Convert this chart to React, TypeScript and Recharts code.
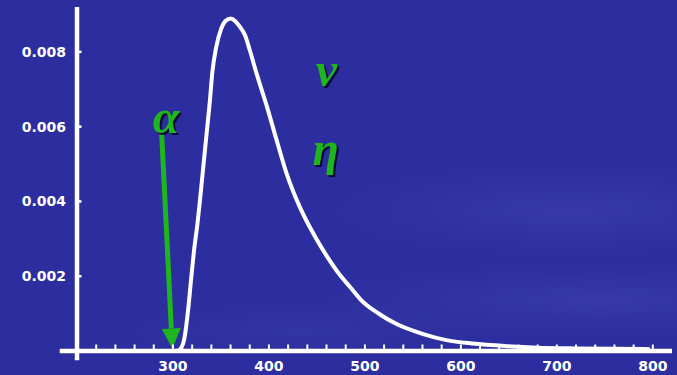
import React from 'react';
import { LineChart, Line, XAxis, YAxis, ReferenceLine, ReferenceDot } from 'recharts';

// curve (x value, density)
const xValues = [300, 305, 308, 312, 316, 319, 322, 325.5, 328, 331.5, 335, 338.5, 341, 345, 350, 355, 360, 365, 370, 375, 380, 387, 398, 408, 418, 432, 448, 460, 474, 485, 495, 515, 533, 560, 585, 612, 648, 680, 720, 760, 797];
const density = [0, 0.00001, 0.00006, 0.00035, 0.00115, 0.00195, 0.0027, 0.0034, 0.004, 0.0049, 0.0058, 0.0067, 0.00745, 0.00812, 0.0086, 0.00883, 0.00889, 0.00882, 0.00866, 0.00845, 0.00805, 0.00743, 0.00653, 0.00564, 0.00478, 0.00386, 0.00306, 0.00255, 0.00203, 0.0017, 0.00139, 0.00099, 0.00072, 0.00046, 0.00029, 0.0002, 0.00013, 0.00009, 0.00007, 0.00006, 0.00005];

const xTicks = [220, 240, 260, 280, 300, 320, 340, 360, 380, 400, 420, 440, 460, 480, 500, 520, 540, 560, 580, 600, 620, 640, 660, 680, 700, 720, 740, 760, 780, 800];
const xLabels = [300, 400, 500, 600, 700, 800];
const yTicks = [0.002, 0.004, 0.006, 0.008];

const GREEN = '#1fb51f';
const WHITE = '#ffffff';
const TICK_FONT = '"DejaVu Sans", sans-serif';

const data = xValues.map((x, i) => ({ x, y: density[i] }));

const XTick = (props: any) => {
  const { x, y, payload } = props;
  const v = payload.value;
  return (
    <g>
      <line x1={x} y1={y - 2} x2={x} y2={y - 6.5} stroke={WHITE} strokeWidth={2} />
      {xLabels.includes(v) && (
        <text x={x} y={y + 20} textAnchor="middle" fill={WHITE} fontFamily={TICK_FONT} fontWeight="bold" fontSize={14}>
          {v}
        </text>
      )}
    </g>
  );
};

const YTick = (props: any) => {
  const { x, y, payload } = props;
  return (
    <g>
      <line x1={x} y1={y} x2={x + 4.5} y2={y} stroke={WHITE} strokeWidth={2.5} />
      <text x={x - 11} y={y} dy="0.36em" textAnchor="end" fill={WHITE} fontFamily={TICK_FONT} fontWeight="bold" fontSize={14}>
        {payload.value.toFixed(3)}
      </text>
    </g>
  );
};

const Arrow = (p: any) => {
  const { x1, y1, x2, y2 } = p;
  const dx = x2 - x1;
  const dy = y2 - y1;
  const len = Math.hypot(dx, dy);
  const ux = dx / len;
  const uy = dy / len;
  const hl = 20;
  const hw = 9.5;
  const bx = x2 - ux * hl;
  const by = y2 - uy * hl;
  return (
    <g>
      <line x1={x1} y1={y1} x2={bx} y2={by} stroke={GREEN} strokeWidth={5} />
      <polygon
        points={`${x2},${y2} ${bx - uy * hw},${by + ux * hw} ${bx + uy * hw},${by - ux * hw}`}
        fill={GREEN}
      />
    </g>
  );
};

const greek = (ch: string) => (p: any) => (
  <text
    x={p.cx}
    y={p.cy}
    textAnchor="middle"
    fill={GREEN}
    fontFamily='"Liberation Serif", serif'
    fontStyle="italic"
    fontWeight="bold"
    fontSize={48}
    style={{ filter: 'drop-shadow(2px 2px 0.5px #0b0b3a)' }}
  >
    {ch}
  </text>
);

export default function App() {
  return (
    <div
      style={{
        position: 'absolute',
        left: 0,
        top: 0,
        width: 677,
        height: 375,
        background:
          'radial-gradient(ellipse 260px 50px at 570px 210px, rgba(90,100,200,0.22), rgba(90,100,200,0) 100%),' +
          'radial-gradient(ellipse 300px 40px at 600px 300px, rgba(90,100,200,0.22), rgba(90,100,200,0) 100%),' +
          'radial-gradient(ellipse 200px 30px at 300px 330px, rgba(80,90,190,0.18), rgba(80,90,190,0) 100%),' +
          '#2c2d9e',
      }}
    >
      <LineChart width={677} height={375} data={data} margin={{ top: 7, right: 5, left: 0, bottom: 0 }}>
        <XAxis
          type="number"
          dataKey="x"
          domain={[200, 820]}
          ticks={xTicks}
          interval={0}
          tick={<XTick />}
          tickLine={false}
          axisLine={false}
          tickSize={0}
          tickMargin={0}
          height={24}
          allowDataOverflow
        />
        <YAxis
          type="number"
          domain={[0, 0.0092]}
          ticks={yTicks}
          interval={0}
          tick={<YTick />}
          tickLine={false}
          axisLine={false}
          tickSize={0}
          tickMargin={0}
          width={77}
          allowDataOverflow
        />
        <ReferenceLine
          segment={[{ x: 182, y: 0 }, { x: 820, y: 0 }]}
          stroke={WHITE}
          strokeWidth={4.5}
          ifOverflow="visible"
        />
        <ReferenceLine
          segment={[{ x: 200, y: -0.00025 }, { x: 200, y: 0.0092 }]}
          stroke={WHITE}
          strokeWidth={4.5}
          ifOverflow="visible"
        />
        <Line
          type="monotone"
          dataKey="y"
          stroke={WHITE}
          strokeWidth={4}
          dot={false}
          isAnimationActive={false}
        />
        <ReferenceLine
          segment={[{ x: 288.2, y: 0.00583 }, { x: 299.3, y: 0.00007 }]}
          shape={Arrow}
          ifOverflow="visible"
        />
        <ReferenceDot x={292.7} y={0.00583} shape={greek('α')} ifOverflow="visible" />
        <ReferenceDot x={460} y={0.00709} shape={greek('ν')} ifOverflow="visible" />
        <ReferenceDot x={459} y={0.00497} shape={greek('η')} ifOverflow="visible" />
      </LineChart>
    </div>
  );
}
